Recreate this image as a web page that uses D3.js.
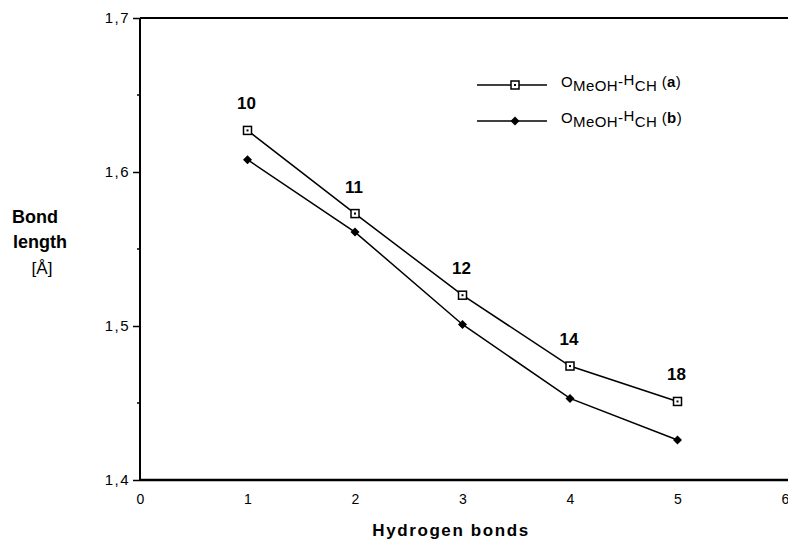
<!DOCTYPE html>
<html>
<head>
<meta charset="utf-8">
<script src="https://d3js.org/d3.v7.min.js"></script>
<style>
  body { margin: 0; background: #fff; }
  svg { display: block; }
  .lbl { font-family: "Liberation Sans", Arial, sans-serif; font-weight: bold; }
  .leg { font-family: "Liberation Sans", Arial, sans-serif; }
</style>
</head>
<body>
<script>
// data
var bonds   = [1, 2, 3, 4, 5];
var seriesA = [1.627, 1.573, 1.520, 1.474, 1.451];
var seriesB = [1.608, 1.561, 1.501, 1.453, 1.426];
var counts  = ["10", "11", "12", "14", "18"];
var yTicks  = [1.4, 1.5, 1.6, 1.7];
var xTicks  = [0, 1, 2, 3, 4, 5, 6];

var W = 788, H = 542;
var svg = d3.select("body").append("svg").attr("width", W).attr("height", H);

var x = d3.scaleLinear().domain([0, 6]).range([140, 785]);
var y = d3.scaleLinear().domain([1.4, 1.7]).range([480, 18]);

// frame lines
svg.append("line").attr("x1", x(0)).attr("x2", W).attr("y1", y(1.7)).attr("y2", y(1.7))
  .attr("stroke", "#000").attr("stroke-width", 2);
svg.append("line").attr("x1", x(0)).attr("x2", W).attr("y1", y(1.4)).attr("y2", y(1.4))
  .attr("stroke", "#000").attr("stroke-width", 2.5);
svg.append("line").attr("x1", x(0)).attr("x2", x(0)).attr("y1", y(1.7)).attr("y2", y(1.4))
  .attr("stroke", "#000").attr("stroke-width", 2);

// y axis
var yAx = svg.append("g").attr("transform", "translate(" + x(0) + ",0)")
  .call(d3.axisLeft(y).tickValues(yTicks).tickSize(7).tickPadding(3)
    .tickFormat(function(d){ return d3.format(".1f")(d).replace(".", ","); }));
yAx.select(".domain").remove();
yAx.selectAll("line").attr("stroke-width", 1.5);
yAx.selectAll("text").style("font-size", "15px").style("letter-spacing", "1.5px")
  .style("font-family", "'Liberation Sans', Arial, sans-serif").attr("fill", "#000");
// minor ticks
svg.selectAll(".minor").data([1.45, 1.55, 1.65]).enter().append("line")
  .attr("x1", x(0) - 3).attr("x2", x(0)).attr("y1", function(d){ return y(d); }).attr("y2", function(d){ return y(d); })
  .attr("stroke", "#000").attr("stroke-width", 1.5);

// x axis labels
var xAx = svg.append("g").attr("transform", "translate(0," + y(1.4) + ")")
  .call(d3.axisBottom(x).tickValues(xTicks).tickSize(0).tickPadding(14).tickFormat(d3.format("d")));
xAx.select(".domain").remove();
xAx.selectAll("text").style("font-size", "14px")
  .style("font-family", "'Liberation Sans', Arial, sans-serif").attr("fill", "#000");

// lines
var line = d3.line().x(function(d, i){ return x(bonds[i]); }).y(function(d){ return y(d); });
svg.append("path").datum(seriesA).attr("d", line).attr("fill", "none").attr("stroke", "#000").attr("stroke-width", 1.5);
svg.append("path").datum(seriesB).attr("d", line).attr("fill", "none").attr("stroke", "#000").attr("stroke-width", 1.5);

function squareMark(g, cx, cy) {
  g.append("rect").attr("x", cx - 4).attr("y", cy - 4).attr("width", 8).attr("height", 8)
    .attr("fill", "#fff").attr("stroke", "#000").attr("stroke-width", 1.5);
  g.append("rect").attr("x", cx - 1).attr("y", cy - 1).attr("width", 2).attr("height", 2).attr("fill", "#000");
}
function diamondMark(g, cx, cy) {
  g.append("path").attr("d", "M" + cx + "," + (cy - 4.5) + "L" + (cx + 4.5) + "," + cy + "L" + cx + "," + (cy + 4.5) + "L" + (cx - 4.5) + "," + cy + "Z")
    .attr("fill", "#000");
}
var marks = svg.append("g");
seriesA.forEach(function(v, i){ squareMark(marks, x(bonds[i]), y(v)); });
seriesB.forEach(function(v, i){ diamondMark(marks, x(bonds[i]), y(v)); });

// count labels above series A
svg.selectAll(".cnt").data(seriesA).enter().append("text").attr("class", "lbl")
  .style("font-size", "17px")
  .attr("x", function(d, i){ return x(bonds[i]) - 1; })
  .attr("y", function(d, i){ return y(d) - 21; })
  .attr("text-anchor", "middle")
  .text(function(d, i){ return counts[i]; });

// legend
var legRows = [{ y: 85, mark: squareMark, tag: "a" }, { y: 121, mark: diamondMark, tag: "b" }];
legRows.forEach(function(r){
  svg.append("line").attr("x1", 477).attr("x2", 547).attr("y1", r.y).attr("y2", r.y)
    .attr("stroke", "#000").attr("stroke-width", 1.5);
  r.mark(svg, 515, r.y);
  var t = svg.append("text").attr("class", "leg").style("font-size", "15px").style("letter-spacing", "0.4px")
    .attr("x", 561).attr("y", r.y + 2);
  t.append("tspan").text("O");
  t.append("tspan").attr("dy", 4).text("MeOH");
  t.append("tspan").attr("dy", -4).text("-");
  t.append("tspan").attr("dy", -2).text("H");
  t.append("tspan").attr("dy", 6).text("CH");
  t.append("tspan").attr("dy", -4).text(" (");
  t.append("tspan").style("font-weight", "bold").text(r.tag);
  t.append("tspan").text(")");
});

// axis titles
svg.append("text").attr("class", "lbl").style("font-size", "18px").attr("x", 12).attr("y", 223).text("Bond");
svg.append("text").attr("class", "lbl").style("font-size", "18px").attr("x", 13).attr("y", 248).text("length");
svg.append("text").attr("class", "leg").style("font-size", "17px").attr("x", 42).attr("y", 274).attr("text-anchor", "middle").text("[Å]");
svg.append("text").attr("class", "lbl").style("font-size", "17px").style("letter-spacing", "1.6px")
  .attr("x", 451).attr("y", 536).attr("text-anchor", "middle").text("Hydrogen bonds");
</script>
</body>
</html>
